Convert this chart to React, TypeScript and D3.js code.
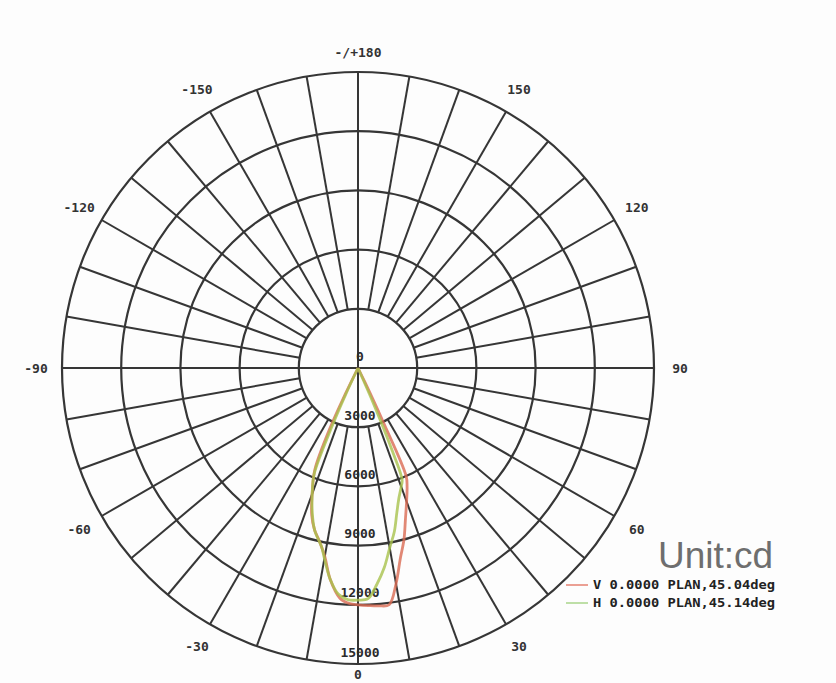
import { useEffect, useRef } from 'react';
import * as d3 from 'd3';

// angle labels (0 = down, positive to the right)
const ANGLE_TICKS = [0, 30, 60, 90, 120, 150, 180, -150, -120, -90, -60, -30];
const ANGLE_LABELS = ['0', '30', '60', '90', '120', '150', '-/+180', '-150', '-120', '-90', '-60', '-30'];
const RING_VALUES = [3000, 6000, 9000, 12000, 15000];
const RING_LABELS = ['0', '3000', '6000', '9000', '12000', '15000'];

// V plane (red)
const V_ANGLES = [-27, -26, -25, -23, -20.5, -17.5, -15, -12.5, -10, -7.5, -4.5, -2, 0, 2.5, 5, 7.5, 10, 12.5, 15, 17.5, 20, 22.5, 24, 25, 26, 27];
const V_VALUES = [0, 1500, 3300, 5600, 6600, 7800, 8500, 9000, 9700, 10800, 11700, 11950, 12000, 12050, 12100, 12100, 11100, 9900, 9000, 8000, 7200, 6500, 6000, 3000, 800, 0];

// H plane (green)
const H_ANGLES = [-26, -25, -24, -22.5, -20.5, -17.5, -15, -11.5, -10, -7.5, -5, -2.5, 0, 2.5, 5, 7.5, 10, 12.5, 15, 17.5, 20, 21.5, 22.5, 23.5, 24.5];
const H_VALUES = [0, 1500, 3300, 5800, 6600, 7700, 8500, 9250, 9800, 10800, 11500, 11750, 11760, 11700, 11000, 10200, 9250, 8500, 7600, 6900, 6400, 6100, 4500, 2000, 0];

const LEGEND = [
  { label: 'V 0.0000 PLAN,45.04deg', color: '#e58070' },
  { label: 'H 0.0000 PLAN,45.14deg', color: '#a9d48a' },
];

const App = () => {
  const svgRef = useRef<SVGSVGElement>(null);

  useEffect(() => {
    if (!svgRef.current) return;
    const svg = d3.select(svgRef.current);
    svg.selectAll('*').remove();

    const width = 836;
    const height = 683;
    const cx = 358;
    const cy = 368;
    const R = 296;

    svg.append('rect').attr('width', width).attr('height', height).attr('fill', '#fdfdfd');

    const r = d3.scaleLinear().domain([0, 15000]).range([0, R]);
    // d3 radial angle: 0 at top, clockwise. our 0 is at bottom.
    const toRad = (deg: number) => Math.PI - (deg * Math.PI) / 180;

    const g = svg.append('g').attr('transform', `translate(${cx},${cy})`);
    const grid = '#363636';

    // spokes every 10 deg
    const spokes = d3.range(0, 360, 10);
    g.selectAll('line.spoke')
      .data(spokes)
      .enter()
      .append('line')
      .attr('class', 'spoke')
      .each(function (d) {
        const a = toRad(d);
        const full = d % 90 === 0;
        const r0 = full ? 0 : r(RING_VALUES[0]);
        d3.select(this)
          .attr('x1', Math.sin(a) * r0)
          .attr('y1', -Math.cos(a) * r0)
          .attr('x2', Math.sin(a) * R)
          .attr('y2', -Math.cos(a) * R);
      })
      .attr('stroke', grid)
      .attr('stroke-width', 2);

    g.selectAll('circle.ring')
      .data(RING_VALUES)
      .enter()
      .append('circle')
      .attr('class', 'ring')
      .attr('r', d => r(d))
      .attr('fill', 'none')
      .attr('stroke', grid)
      .attr('stroke-width', 2.2);

    // ring labels
    const ringVals = [0, ...RING_VALUES];
    g.selectAll('text.rl')
      .data(ringVals)
      .enter()
      .append('text')
      .attr('class', 'rl')
      .attr('x', 2)
      .attr('y', d => r(d) - 12)
      .attr('text-anchor', 'middle')
      .attr('dominant-baseline', 'central')
      .attr('font-family', 'DejaVu Sans Mono')
      .attr('font-weight', 'bold')
      .attr('font-size', 13)
      .attr('fill', '#2a2a2a')
      .text((_, i) => RING_LABELS[i]);

    // angle labels
    const labelR = (d: number) => (d === 180 ? 316 : d === 0 ? 306 : 322);
    g.selectAll('text.al')
      .data(ANGLE_TICKS)
      .enter()
      .append('text')
      .attr('class', 'al')
      .attr('x', d => Math.sin(toRad(d)) * labelR(d))
      .attr('y', d => -Math.cos(toRad(d)) * labelR(d))
      .attr('text-anchor', 'middle')
      .attr('dominant-baseline', 'central')
      .attr('font-family', 'DejaVu Sans Mono')
      .attr('font-weight', 'bold')
      .attr('font-size', 13)
      .attr('fill', '#333')
      .text((_, i) => ANGLE_LABELS[i]);

    const line = d3.lineRadial<[number, number]>()
      .angle(d => toRad(d[0]))
      .radius(d => r(d[1]))
      .curve(d3.curveCatmullRom.alpha(0.5));

    const series = [
      { angles: V_ANGLES, values: V_VALUES, color: '#d96a52' },
      { angles: H_ANGLES, values: H_VALUES, color: '#a8c24c' },
    ];
    series.forEach(s => {
      const pts = s.angles.map((a, i) => [a, s.values[i]] as [number, number]);
      g.append('path')
        .attr('d', line(pts) || '')
        .attr('fill', 'none')
        .attr('stroke', s.color)
        .attr('stroke-width', 2.8)
        .attr('stroke-opacity', 0.8);
    });

    // legend
    svg.append('text')
      .attr('x', 658)
      .attr('y', 568)
      .attr('font-family', 'Liberation Sans, Arial')
      .attr('font-size', 37)
      .attr('fill', '#6e6e6e')
      .text('Unit:cd');

    const lg = svg.append('g');
    LEGEND.forEach((d, i) => {
      const y = 585 + i * 18;
      lg.append('line')
        .attr('x1', 566).attr('x2', 588)
        .attr('y1', y).attr('y2', y)
        .attr('stroke', d.color)
        .attr('stroke-width', 1.5);
      lg.append('text')
        .attr('x', 593)
        .attr('y', y)
        .attr('dominant-baseline', 'central')
        .attr('font-family', 'DejaVu Sans Mono')
        .attr('font-weight', 'bold')
        .attr('font-size', 12)
        .attr('fill', '#222')
        .attr('textLength', 182)
        .attr('lengthAdjust', 'spacingAndGlyphs')
        .text(d.label);
    });
  }, []);

  return (
    <svg
      ref={svgRef}
      width={836}
      height={683}
      style={{ position: 'absolute', left: 0, top: 0 }}
    />
  );
};

export default App;
